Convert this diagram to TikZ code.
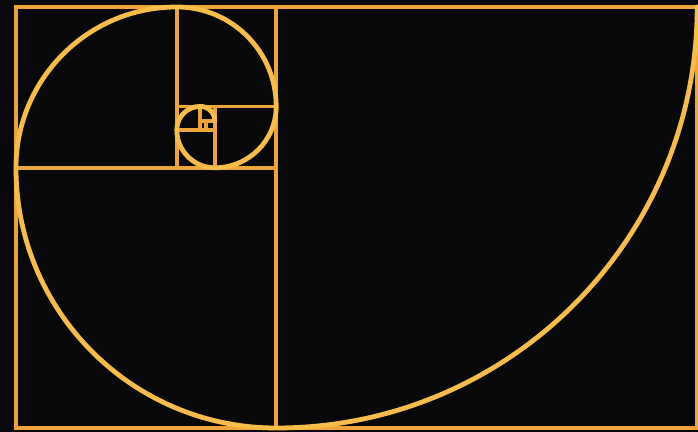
\documentclass[tikz,border=0pt]{standalone}
\definecolor{goldline}{RGB}{238,164,58}
\definecolor{goldspiral}{RGB}{248,188,72}
\definecolor{nightbg}{RGB}{8,8,10}
\begin{document}
\begin{tikzpicture}[
    x=0.025cm,
    y=0.025cm,
    square/.style={
        draw=goldline,
        line width=2.6pt
    },
    spiral/.style={
        draw=goldspiral,
        line width=3.4pt,
        line cap=round
    }
]

% Background
\fill[nightbg] (0,0) rectangle (698,432);
\useasboundingbox (0,0) rectangle (698,432);

% Squares, largest first: lower left corner and side
\foreach \x/\y/\s in {
    276.19/4/421,
    16/4/260.19,
    16/264.19/160.81,
    176.81/325.62/99.38,
    214.77/264.19/61.42,
    176.81/264.19/37.96,
    176.81/302.15/23.46,
    200.27/311.12/14.50,
    205.81/302.15/8.96
}{
    \draw[square] (\x,\y) rectangle ++(\s,\s);
}

% The spiral, one quarter arc for each square
\draw[spiral] (697.19,425)
    \foreach \i [evaluate=\i as \r using 421/1.618034^\i] in {0,...,7}{
        arc[start angle={-90*\i}, delta angle=-90, radius=\r]
    };
\end{tikzpicture}
\end{document}
